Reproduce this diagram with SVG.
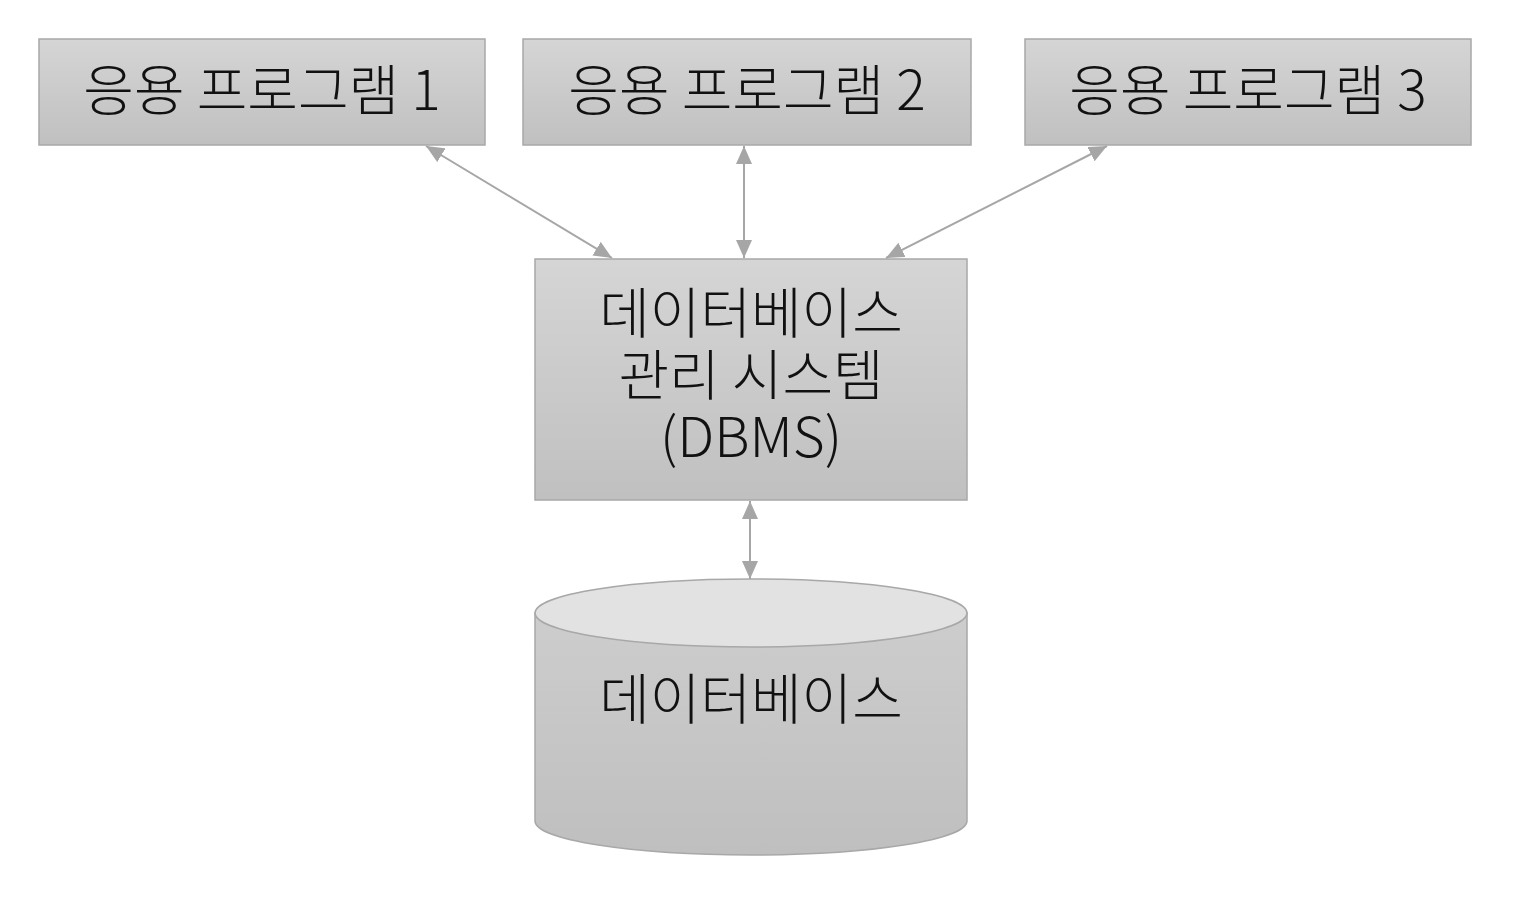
<svg xmlns="http://www.w3.org/2000/svg" width="1514" height="898" viewBox="0 0 1514 898">
<defs>
<style>
.box{stroke:#a8a8a8;stroke-width:1.5;fill:url(#g)}
.t{font-family:"Noto Sans CJK KR","Noto Sans",sans-serif;font-size:55px;fill:#111;text-anchor:middle;font-weight:300}
.c{stroke:#a6a6a6;stroke-width:2;fill:none;marker-start:url(#a);marker-end:url(#a)}
</style>
<linearGradient id="g" x1="0" y1="0" x2="0" y2="1"><stop offset="0" stop-color="#d5d5d5"/><stop offset="1" stop-color="#c0c0c0"/></linearGradient>
<linearGradient id="gc" x1="0" y1="0" x2="0" y2="1"><stop offset="0" stop-color="#cdcdcd"/><stop offset="1" stop-color="#bfbfbf"/></linearGradient>
<marker id="a" viewBox="0 0 18 16" refX="18" refY="8" markerWidth="18" markerHeight="16" markerUnits="userSpaceOnUse" orient="auto-start-reverse"><path d="M0,0 L18,8 L0,16 Z" fill="#a6a6a6"/></marker>
</defs>
<rect width="1514" height="898" fill="#fff"/>
<g id="connectors">
<line class="c" x1="426" y1="146" x2="612" y2="258"/>
<line class="c" x1="744" y1="146" x2="744" y2="258"/>
<line class="c" x1="1107" y1="146" x2="886" y2="258"/>
<line class="c" x1="750" y1="501" x2="750" y2="579"/>
</g>
<g id="app1"><rect class="box" x="39" y="39" width="446" height="106"/><text class="t" x="262" y="110">응용 프로그램 1</text></g>
<g id="app2"><rect class="box" x="523" y="39" width="448" height="106"/><text class="t" x="747" y="110">응용 프로그램 2</text></g>
<g id="app3"><rect class="box" x="1025" y="39" width="446" height="106"/><text class="t" x="1248" y="110">응용 프로그램 3</text></g>
<g id="dbms"><rect class="box" x="535" y="259" width="432" height="241"/>
<text class="t" x="751" y="333">데이터베이스</text><text class="t" x="751" y="395">관리 시스템</text><text class="t" x="751" y="457">(DBMS)</text></g>
<g id="db">
<path d="M535,613 L535,821 A216,34 0 0 0 967,821 L967,613 Z" fill="url(#gc)" stroke="#a8a8a8" stroke-width="1.5"/>
<ellipse cx="751" cy="613" rx="216" ry="34" fill="#e2e2e2" stroke="#a8a8a8" stroke-width="1.5"/>
<text class="t" x="751" y="719">데이터베이스</text>
</g>
</svg>
